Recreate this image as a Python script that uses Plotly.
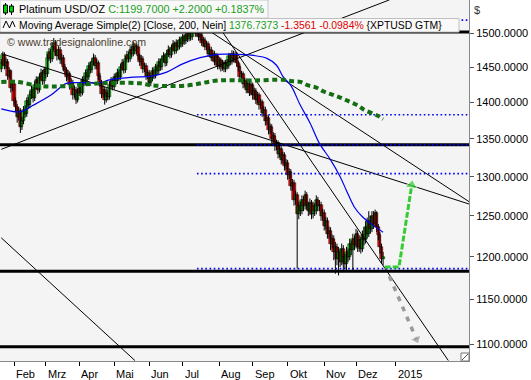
import plotly.graph_objects as go
import numpy as np
import pandas as pd

# ---------------- data (daily bars, XPTUSD) ----------------
opens = [1448,1456,1468,1452,1458,1438,1444,1420,1426,1402,
         1394,1380,1388,1366,1374,1390,1384,1402,1396,1410,
         1418,1406,1424,1432,1418,1436,1442,1430,1446,1440,
         1464,1472,1462,1480,1486,1472,1466,1476,1460,1464,
         1450,1446,1436,1440,1424,1428,1410,1418,1404,1414,
         1420,1414,1432,1428,1442,1436,1452,1446,1458,1464,
         1452,1456,1438,1428,1412,1418,1404,1414,1408,1424,
         1430,1422,1436,1430,1442,1436,1450,1456,1446,1462,
         1468,1462,1476,1470,1482,1474,1480,1466,1458,1462,
         1448,1452,1438,1442,1428,1434,1444,1438,1450,1444,
         1458,1450,1462,1466,1456,1470,1476,1468,1478,1484,
         1474,1486,1480,1490,1484,1494,1488,1498,1492,1502,
         1494,1504,1510,1500,1504,1494,1498,1486,1490,1480,
         1484,1470,1476,1464,1470,1458,1466,1452,1460,1450,
         1456,1448,1456,1452,1466,1458,1470,1462,1468,1456,
         1450,1436,1440,1426,1430,1418,1426,1414,1424,1410,
         1416,1404,1410,1396,1400,1386,1390,1374,1378,1362,
         1366,1350,1354,1340,1344,1330,1336,1322,1328,1314,
         1318,1302,1306,1288,1292,1270,1276,1252,1262,1256,
         1270,1262,1276,1264,1256,1266,1252,1262,1256,1270,
         1262,1264,1250,1254,1238,1244,1228,1232,1216,1222,
         1206,1212,1198,1206,1194,1210,1200,1192,1206,1200,
         1216,1208,1222,1214,1228,1212,1220,1210,1226,1220,
         1236,1228,1244,1234,1250,1240,1254,1236,1226,1212,
         1198]
highs = [1462,1473,1472,1464,1462,1450,1447,1432,1430,1407,
         1398,1393,1392,1380,1395,1396,1407,1408,1416,1424,
         1422,1430,1437,1436,1441,1448,1446,1451,1450,1470,
         1478,1477,1486,1493,1490,1477,1481,1480,1470,1468,
         1455,1450,1446,1444,1434,1432,1424,1422,1420,1426,
         1425,1437,1438,1447,1448,1457,1458,1463,1470,1468,
         1462,1460,1442,1432,1424,1422,1420,1418,1430,1436,
         1434,1441,1441,1448,1447,1455,1462,1460,1467,1474,
         1473,1481,1481,1488,1486,1485,1484,1470,1468,1466,
         1457,1456,1447,1446,1439,1450,1448,1455,1454,1463,
         1462,1467,1472,1470,1475,1482,1480,1483,1490,1488,
         1491,1490,1495,1494,1499,1498,1503,1502,1507,1506,
         1510,1518,1514,1509,1507,1503,1501,1495,1494,1489,
         1488,1481,1480,1475,1474,1471,1470,1465,1464,1461,
         1460,1461,1462,1471,1470,1475,1474,1473,1472,1460,
         1454,1445,1444,1435,1434,1431,1430,1429,1428,1421,
         1420,1415,1414,1405,1404,1395,1394,1383,1382,1371,
         1370,1359,1358,1349,1348,1341,1340,1333,1332,1323,
         1322,1311,1310,1297,1296,1282,1280,1268,1268,1276,
         1275,1282,1280,1268,1272,1270,1268,1266,1276,1274,
         1270,1268,1259,1258,1249,1248,1237,1236,1227,1226,
         1218,1216,1212,1210,1216,1214,1204,1212,1210,1222,
         1220,1228,1226,1234,1232,1226,1224,1232,1236,1244,
         1248,1256,1250,1256,1256,1258,1256,1240,1230,1216,
         1206]
lows = [1443,1452,1447,1448,1432,1434,1414,1416,1396,1388,
        1372,1375,1358,1362,1370,1379,1380,1391,1392,1405,
        1400,1402,1419,1412,1414,1431,1425,1426,1434,1436,
        1459,1456,1458,1475,1467,1460,1462,1455,1454,1444,
        1440,1430,1432,1418,1420,1404,1406,1398,1400,1409,
        1408,1410,1423,1424,1430,1432,1441,1442,1453,1447,
        1447,1432,1422,1406,1407,1397,1400,1403,1404,1419,
        1417,1418,1425,1426,1431,1432,1445,1441,1442,1457,
        1457,1458,1465,1466,1469,1469,1461,1452,1453,1442,
        1443,1432,1433,1422,1423,1430,1433,1434,1439,1440,
        1445,1446,1457,1451,1452,1465,1463,1464,1473,1469,
        1470,1475,1476,1479,1480,1483,1484,1487,1488,1489,
        1490,1500,1495,1495,1489,1489,1481,1481,1475,1475,
        1465,1465,1459,1459,1453,1453,1447,1447,1444,1445,
        1443,1443,1447,1448,1453,1454,1457,1457,1451,1444,
        1430,1431,1420,1421,1413,1413,1409,1410,1404,1405,
        1398,1399,1390,1391,1380,1381,1368,1369,1356,1357,
        1344,1345,1334,1335,1324,1325,1316,1317,1308,1309,
        1296,1297,1282,1282,1263,1264,1186,1246,1250,1252,
        1256,1258,1258,1250,1251,1246,1247,1250,1252,1256,
        1256,1244,1244,1232,1233,1222,1222,1208,1210,1196,
        1180,1190,1178,1188,1190,1182,1186,1184,1194,1196,
        1202,1184,1208,1210,1206,1206,1204,1206,1214,1216,
        1222,1224,1228,1230,1234,1236,1230,1220,1204,1192,
        1190]
closes = [1456,1468,1452,1458,1438,1444,1420,1426,1402,1394,
          1380,1388,1366,1374,1390,1384,1402,1396,1410,1418,
          1406,1424,1432,1418,1436,1442,1430,1446,1440,1464,
          1472,1462,1480,1486,1472,1466,1476,1460,1464,1450,
          1446,1436,1440,1424,1428,1410,1418,1404,1414,1420,
          1414,1432,1428,1442,1436,1452,1446,1458,1464,1452,
          1456,1438,1428,1412,1418,1404,1414,1408,1424,1430,
          1422,1436,1430,1442,1436,1450,1456,1446,1462,1468,
          1462,1476,1470,1482,1474,1480,1466,1458,1462,1448,
          1452,1438,1442,1428,1434,1444,1438,1450,1444,1458,
          1450,1462,1466,1456,1470,1476,1468,1478,1484,1474,
          1486,1480,1490,1484,1494,1488,1498,1492,1502,1494,
          1504,1510,1500,1504,1494,1498,1486,1490,1480,1484,
          1470,1476,1464,1470,1458,1466,1452,1460,1450,1456,
          1448,1456,1452,1466,1458,1470,1462,1468,1456,1450,
          1436,1440,1426,1430,1418,1426,1414,1424,1410,1416,
          1404,1410,1396,1400,1386,1390,1374,1378,1362,1366,
          1350,1354,1340,1344,1330,1336,1322,1328,1314,1318,
          1302,1306,1288,1292,1270,1276,1252,1262,1256,1270,
          1262,1276,1264,1256,1266,1252,1262,1256,1270,1262,
          1264,1250,1254,1238,1244,1228,1232,1216,1222,1206,
          1212,1198,1206,1194,1210,1200,1192,1206,1200,1216,
          1208,1222,1214,1228,1212,1220,1210,1226,1220,1236,
          1228,1244,1234,1250,1240,1254,1236,1226,1212,1198,
          1200]

first_date = "2014-01-22"

# moving averages (bar index, value)
ma50_idx = [0, 12, 20, 31, 41, 48, 62, 68, 83, 94, 104, 114, 125, 136, 146, 156,
            167, 173, 177, 182, 188, 194, 200, 207, 213, 217, 222, 227, 234, 240]
ma50_val = [1391, 1387, 1396, 1410, 1427, 1428, 1428, 1432, 1436, 1437, 1443, 1455,
            1464, 1469, 1469, 1468, 1463, 1453, 1437, 1424, 1396, 1372, 1344, 1322,
            1300, 1282, 1261, 1249, 1238, 1230]
ma200_idx = [0, 10, 25, 40, 62, 87, 95, 117, 136, 157, 177, 183, 188, 193, 198,
             203, 208, 214, 219, 224, 228, 234, 238, 240]
ma200_val = [1429, 1429, 1423, 1423, 1427, 1427, 1424, 1424, 1431, 1431, 1432, 1430,
             1429, 1424, 1421, 1415, 1411, 1406, 1401, 1396, 1390, 1384, 1380, 1377]

# horizontal levels
black_levels = [1502, 1342, 1183, 1097]
blue_levels = [1520, 1383, 1342, 1304, 1186]
blue_start_idx = 123

# trend lines: (idx0, price0, idx1, price1)
trend_lines = [
    (0, 1470, 294, 1265),
    (0, 1336, 244, 1551),
    (128, 1541, 281, 1082),
    (123, 1516, 294, 1268),
    (0, 1223, 84, 1082),
]

# projection arrows
green_arrow_idx = [241, 250, 258]
green_arrow_val = [1188, 1188, 1289]
gray_arrow_idx = [244, 261]
gray_arrow_val = [1177, 1105]

month_labels = ["Feb", "Mrz", "Apr", "Mai", "Jun", "Jul", "Aug", "Sep", "Okt", "Nov", "Dez", "2015"]
month_starts = ["2014-02-01", "2014-03-01", "2014-04-01", "2014-05-01", "2014-06-01", "2014-07-01",
                "2014-08-01", "2014-09-01", "2014-10-01", "2014-11-01", "2014-12-01", "2015-01-01"]
y_ticks = [1100, 1150, 1200, 1250, 1300, 1350, 1400, 1450, 1500]

# ---------------- axis helpers ----------------
n = len(closes)
dates = pd.bdate_range(first_date, periods=n)
idx = list(range(n))
tick_idx = []
for ms in month_starts:
    d = pd.Timestamp(ms)
    if d <= dates[-1]:
        tick_idx.append(int(np.searchsorted(dates, d)))
    else:  # future area: calendar days
        tick_idx.append(n - 1 + (d - dates[-1]).days)

X0, X1 = -0.8, 294.0
Y0, Y1 = 1081.5, 1550.8
PW, PH = 469.0, 361.0  # plot area in px


def pxx(x):
    return x / PW


def pxy(y):
    return 1 - y / PH


fig = go.Figure()

# horizontal black levels
for lv in black_levels:
    fig.add_trace(go.Scatter(x=[X0, X1], y=[lv, lv], mode="lines",
                             line=dict(color="black", width=3), hoverinfo="skip"))
# trend lines
tx, ty = [], []
for a, pa, b, pb in trend_lines:
    tx += [a, b, None]
    ty += [pa, pb, None]
fig.add_trace(go.Scatter(x=tx, y=ty, mode="lines", line=dict(color="black", width=1),
                         hoverinfo="skip"))
# blue dotted levels
for lv in blue_levels:
    fig.add_trace(go.Scatter(x=[blue_start_idx, X1], y=[lv, lv], mode="lines",
                             line=dict(color="#0000ff", width=1.6, dash="1.6px,2.6px"),
                             hoverinfo="skip"))

# candles: wicks + bodies
wx, wy = [], []
for i in idx:
    wx += [i, i, None]
    wy += [lows[i], highs[i], None]
fig.add_trace(go.Scatter(x=wx, y=wy, mode="lines", line=dict(color="black", width=1),
                         hoverinfo="skip"))
body_base = [min(o, c) for o, c in zip(opens, closes)]
body_len = [max(abs(c - o), 0.8) for o, c in zip(opens, closes)]
body_col = ["#00e400" if c >= o else "#ff0000" for o, c in zip(opens, closes)]
fig.add_trace(go.Bar(x=idx, y=body_len, base=body_base, width=1.9,
                     marker=dict(color=body_col, line=dict(color="black", width=0.5)),
                     hoverinfo="skip"))

# moving averages
fig.add_trace(go.Scatter(x=ma50_idx, y=ma50_val, mode="lines",
                         line=dict(color="#0000ee", width=1.2, shape="spline"),
                         hoverinfo="skip"))
fig.add_trace(go.Scatter(x=ma200_idx, y=ma200_val, mode="lines",
                         line=dict(color="#136d13", width=4, dash="5px,3.5px", shape="spline"),
                         hoverinfo="skip"))

# arrows
fig.add_trace(go.Scatter(x=gray_arrow_idx, y=gray_arrow_val, mode="lines+markers",
                         line=dict(color="#9a9a9a", width=3.5, dash="5px,6px"),
                         marker=dict(symbol="triangle-up", size=[0, 10], color="#9a9a9a",
                                     angleref="previous"),
                         hoverinfo="skip"))
fig.add_trace(go.Scatter(x=green_arrow_idx, y=green_arrow_val, mode="lines+markers",
                         line=dict(color="#33cc33", width=3, dash="6px,2px"),
                         marker=dict(symbol="triangle-up", size=[0, 0, 11], color="#33cc33",
                                     angleref="previous"),
                         hoverinfo="skip"))

shapes = [
    # legend boxes
    dict(type="rect", xref="paper", yref="paper", x0=pxx(0), x1=pxx(268), y0=pxy(18), y1=pxy(0),
         fillcolor="#f9f9f9", line=dict(color="#c8c8c8", width=1), layer="above"),
    dict(type="rect", xref="paper", yref="paper", x0=pxx(0), x1=pxx(459), y0=pxy(32), y1=pxy(18.5),
         fillcolor="#f9f9f9", line=dict(color="#c0c0c0", width=1), layer="above"),
    # candle icon
    dict(type="line", xref="paper", yref="paper", x0=pxx(5.5), x1=pxx(5.5), y0=pxy(15), y1=pxy(3),
         line=dict(color="black", width=1), layer="above"),
    dict(type="rect", xref="paper", yref="paper", x0=pxx(3.5), x1=pxx(7.5), y0=pxy(13), y1=pxy(5),
         fillcolor="#00d000", line=dict(color="black", width=1), layer="above"),
    dict(type="line", xref="paper", yref="paper", x0=pxx(11.5), x1=pxx(11.5), y0=pxy(15), y1=pxy(4),
         line=dict(color="black", width=1), layer="above"),
    dict(type="rect", xref="paper", yref="paper", x0=pxx(9.5), x1=pxx(13.5), y0=pxy(12), y1=pxy(6),
         fillcolor="#00d000", line=dict(color="black", width=1), layer="above"),
    # squiggle icon
    dict(type="path", xref="paper", yref="paper",
         path="M {} {} L {} {} L {} {} L {} {} L {} {}".format(
             pxx(3), pxy(28), pxx(6), pxy(21), pxx(9.5), pxy(28), pxx(12.5), pxy(21), pxx(15), pxy(27)),
         line=dict(color="black", width=1), layer="above"),
    # resize corner
    dict(type="rect", xref="paper", yref="paper", x0=pxx(461), x1=pxx(469), y0=pxy(361), y1=pxy(353),
         fillcolor="white", line=dict(color="#777", width=1), layer="above"),
    dict(type="line", xref="paper", yref="paper", x0=pxx(462), x1=pxx(468), y0=pxy(360), y1=pxy(354),
         line=dict(color="#555", width=1), layer="above"),
]

FONT = "Liberation Sans, Arial, sans-serif"
annotations = [
    dict(xref="paper", yref="paper", x=pxx(17), y=pxy(9.5), xanchor="left", yanchor="middle",
         showarrow=False, font=dict(family=FONT, size=10.85, color="black"),
         text="Platinum USD/OZ <span style='color:#1c9e1c'>C:1199.7000 +2.2000 +0.1837%</span>"),
    dict(xref="paper", yref="paper", x=pxx(17), y=pxy(25), xanchor="left", yanchor="middle",
         showarrow=False, font=dict(family=FONT, size=10.4, color="black"),
         text="Moving Average Simple(2) [Close, 200, Nein] <span style='color:#1c9e1c'>1376.7373</span>"
              " <span style='color:#e00000'>-1.3561 -0.0984%</span> {XPTUSD GTM}"),
    dict(xref="paper", yref="paper", x=pxx(5), y=pxy(42), xanchor="left", yanchor="middle",
         showarrow=False, font=dict(family=FONT, size=10.6, color="#4a4030"),
         text="© www.tradesignalonline.com"),
    dict(xref="paper", yref="paper", x=1, xshift=3, y=pxy(10), xanchor="left", yanchor="middle",
         showarrow=False, font=dict(family=FONT, size=11, color="#333"), text="$"),
]
for lab, ti in zip(month_labels, tick_idx):
    annotations.append(dict(xref="x", yref="paper", x=ti, y=0, xanchor="left", yanchor="top",
                            xshift=0, yshift=-5, showarrow=False,
                            font=dict(family=FONT, size=11, color="black"), text=lab))

fig.update_layout(
    width=531, height=380,
    margin=dict(l=0, r=62, t=0, b=19, autoexpand=False),
    paper_bgcolor="white", plot_bgcolor="#f4f4f4",
    showlegend=False, bargap=0,
    shapes=shapes, annotations=annotations,
    xaxis=dict(range=[X0, X1], showgrid=False, zeroline=False,
               tickvals=tick_idx, ticktext=[""] * len(tick_idx), ticks="outside", ticklen=4,
               tickcolor="black", showline=True, linecolor="#888", mirror=True),
    yaxis=dict(type="log", range=[np.log10(Y0), np.log10(Y1)], side="right", showgrid=False,
               zeroline=False, tickvals=y_ticks, ticktext=["%.4f" % v for v in y_ticks],
               ticks="outside", ticklen=4, tickcolor="#555", showline=True, linecolor="#888",
               mirror=True, tickfont=dict(family=FONT, size=11, color="black")),
)

fig.write_html("out.html", config={"displayModeBar": False},
               post_script="document.body.style.margin='0px';")
